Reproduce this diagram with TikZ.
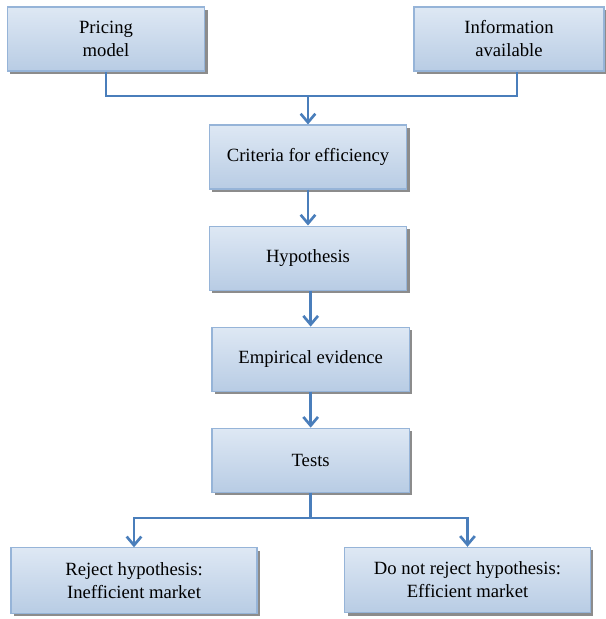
\documentclass[tikz,border=0pt]{standalone}
\usepackage{fontspec}
\setmainfont{Liberation Serif}
\usetikzlibrary{positioning, arrows.meta, shadows}
\definecolor{linkBlue}{RGB}{74,126,187}
\definecolor{boxTop}{RGB}{222,232,244}
\definecolor{boxBottom}{RGB}{184,204,228}
\definecolor{boxEdge}{RGB}{150,180,216}
\tikzset{
	stagebox/.style={rectangle, draw=boxEdge, line width=0.8pt,
		top color=boxTop, bottom color=boxBottom,
		drop shadow={shadow xshift=2.2pt, shadow yshift=-2.2pt, fill=black!45, opacity=1},
		minimum height=48pt, minimum width=148pt, align=center,
		font=\fontsize{14}{17.25}\selectfont, inner sep=3pt},
	linkline/.style={line width=2pt, draw=linkBlue},
	linkarr/.style={linkline, -{Straight Barb[length=6.5pt, width=11pt]}}
}
\begin{document}
\begin{tikzpicture}[x=0.75pt, y=-0.75pt, node distance=27pt]
			\useasboundingbox (0,0) rectangle (606,619);
			\node[stagebox] (pricing) at (106,39) {Pricing\\model};
			\node[stagebox, minimum width=142.5pt] (info) at (509,39) {Information\\available};
			\node[stagebox] (criteria) at (308,157) {Criteria for efficiency};
			\node[stagebox, below=of criteria] (hypothesis) {Hypothesis};
			\node[stagebox, below=of hypothesis, xshift=2pt] (evidence) {Empirical evidence};
			\node[stagebox, below=of evidence] (tests) {Tests};
			\node[stagebox, minimum width=184.5pt, minimum height=49pt] (reject) at (134,580.5) {Reject hypothesis:\\Inefficient market};
			\node[stagebox, minimum width=184pt, minimum height=49pt] (accept) at (467.5,580) {Do not reject hypothesis:\\Efficient market};
			\coordinate (topjoin) at (308,96);
			\coordinate (botjoin) at ([yshift=-19pt]tests.south);
			\draw[linkline] (pricing.south) |- (topjoin) -| ([xshift=6pt]info.south);
			\draw[linkarr] (topjoin) -- (topjoin |- criteria.north);
			\draw[linkarr] (criteria) -- (hypothesis);
			\draw[linkarr] (hypothesis.south -| evidence.north) -- (evidence.north);
			\draw[linkarr] (evidence) -- (tests);
			\draw[linkline] (tests.south) -- (botjoin);
			\draw[linkarr] (botjoin) -| (reject.north);
			\draw[linkarr] (botjoin) -| (accept.north);
		\end{tikzpicture}
\end{document}
